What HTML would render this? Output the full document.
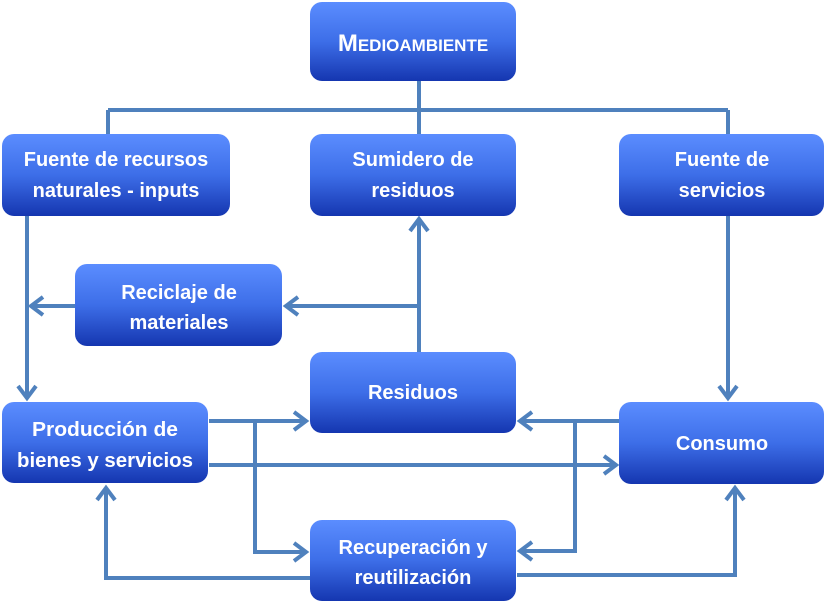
<!DOCTYPE html>
<html><head><meta charset="utf-8"><style>
body{margin:0;background:#fff;}
svg{display:block}
text{font-family:"Liberation Sans",sans-serif;font-weight:bold;fill:#fff;font-size:20px;text-anchor:middle}
</style></head><body>
<svg width="826" height="604" viewBox="0 0 826 604">
<defs>
<linearGradient id="g" x1="0" y1="0" x2="0" y2="1">
<stop offset="0" stop-color="#5b8dff"/>
<stop offset="0.5" stop-color="#3d6ee8"/>
<stop offset="1" stop-color="#1536b0"/>
</linearGradient>
</defs>
<g fill="none" stroke="#4f81bd" stroke-width="4">
<path d="M419 81V110M108 110H728M108 110V134M419 110V134M728 110V134"/>
<path d="M27 216V398M18 386L27 398L36 386"/>
<path d="M728 216V398M719 386L728 398L737 386"/>
<path d="M419 352V219M410 231L419 219L428 231"/>
<path d="M419 306H286M298 297L286 306L298 315"/>
<path d="M75 306H31M43 297L31 306L43 315"/>
<path d="M209 421H306M294 412L306 421L294 430"/>
<path d="M209 465H616M604 456L616 465L604 474"/>
<path d="M255 423V552H306M294 543L306 552L294 561"/>
<path d="M619 421H520M532 412L520 421L532 430"/>
<path d="M575 421V551H520M532 542L520 551L532 560"/>
<path d="M310 578H106V488M97 500L106 488L115 500"/>
<path d="M517 575H735V488M726 500L735 488L744 500"/>
</g>
<g fill="url(#g)">
<rect x="310" y="2" width="206" height="79" rx="12"/>
<rect x="2" y="134" width="228" height="82" rx="12"/>
<rect x="310" y="134" width="206" height="82" rx="12"/>
<rect x="619" y="134" width="205" height="82" rx="12"/>
<rect x="75" y="264" width="207" height="82" rx="12"/>
<rect x="310" y="352" width="206" height="81" rx="12"/>
<rect x="2" y="402" width="206" height="81" rx="12"/>
<rect x="619" y="402" width="205" height="82" rx="12"/>
<rect x="310" y="520" width="206" height="81" rx="12"/>
</g>
<text x="413" y="51"><tspan font-size="24">M</tspan><tspan font-size="17">EDIOAMBIENTE</tspan></text>
<text x="116" y="166">Fuente de recursos</text>
<text x="116" y="197">naturales - inputs</text>
<text x="413" y="166">Sumidero de</text>
<text x="413" y="197">residuos</text>
<text x="722" y="166">Fuente de</text>
<text x="722" y="197">servicios</text>
<text x="179" y="299">Reciclaje de</text>
<text x="179" y="329">materiales</text>
<text x="413" y="399">Residuos</text>
<text x="105" y="436" textLength="146" lengthAdjust="spacingAndGlyphs">Producción de</text>
<text x="105" y="467" textLength="176" lengthAdjust="spacingAndGlyphs">bienes y servicios</text>
<text x="722" y="450">Consumo</text>
<text x="413" y="554">Recuperación y</text>
<text x="413" y="584">reutilización</text>
</svg>
</body></html>
